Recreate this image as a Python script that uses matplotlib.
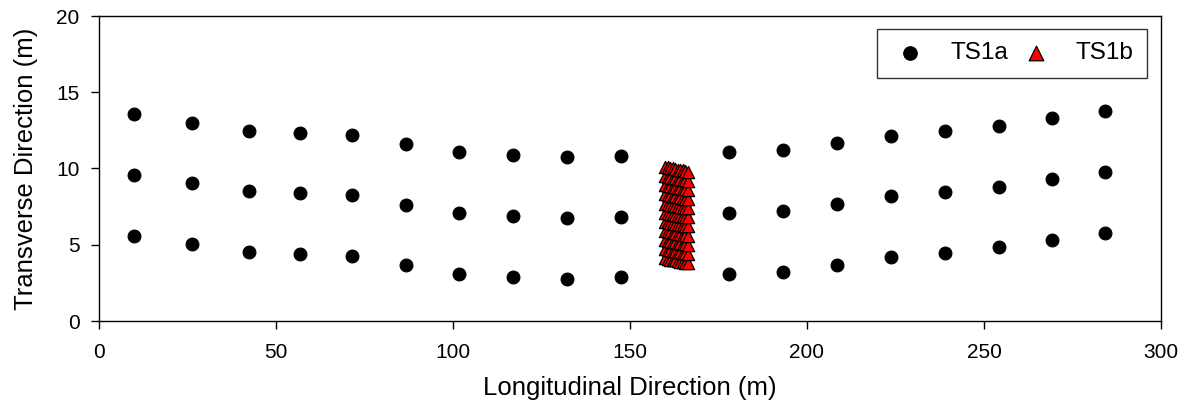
import matplotlib
matplotlib.use("Agg")
import matplotlib.pyplot as plt

plt.rcParams["font.family"] = ["Liberation Sans", "DejaVu Sans"]

# TS1a survey points: three transverse lines along the reach
ts1a_x = [10.0, 26.2, 42.4, 56.7, 71.4, 86.6, 101.8, 116.9, 132.2, 147.4,
          178.0, 193.1, 208.5, 223.8, 239.1, 254.3, 269.3, 284.3]
ts1a_y_upper = [13.57, 13.01, 12.49, 12.36, 12.22, 11.63, 11.07, 10.89, 10.74, 10.82,
                11.07, 11.20, 11.68, 12.16, 12.47, 12.80, 13.28, 13.76]
ts1a_y_middle = [9.55, 9.03, 8.50, 8.37, 8.24, 7.62, 7.05, 6.90, 6.74, 6.83,
                 7.07, 7.20, 7.68, 8.17, 8.47, 8.80, 9.29, 9.77]
ts1a_y_lower = [5.58, 5.03, 4.51, 4.38, 4.24, 3.65, 3.08, 2.91, 2.78, 2.86,
                3.08, 3.21, 3.70, 4.18, 4.49, 4.82, 5.30, 5.78]

# TS1b dense grid: longitudinal stations and transverse readings per row
ts1b_x = [160.0, 160.7, 161.4, 162.1, 162.8, 163.5, 164.2, 164.9, 165.6, 166.3]
ts1b_rows = [
    [4.10, 4.07, 4.03, 4.00, 3.97, 3.93, 3.90, 3.87, 3.83, 3.80],
    [4.70, 4.67, 4.63, 4.60, 4.57, 4.53, 4.50, 4.47, 4.43, 4.40],
    [5.30, 5.27, 5.23, 5.20, 5.17, 5.13, 5.10, 5.07, 5.03, 5.00],
    [5.90, 5.87, 5.83, 5.80, 5.77, 5.73, 5.70, 5.67, 5.63, 5.60],
    [6.50, 6.47, 6.43, 6.40, 6.37, 6.33, 6.30, 6.27, 6.23, 6.20],
    [7.10, 7.07, 7.03, 7.00, 6.97, 6.93, 6.90, 6.87, 6.83, 6.80],
    [7.70, 7.67, 7.63, 7.60, 7.57, 7.53, 7.50, 7.47, 7.43, 7.40],
    [8.30, 8.27, 8.23, 8.20, 8.17, 8.13, 8.10, 8.07, 8.03, 8.00],
    [8.90, 8.87, 8.83, 8.80, 8.77, 8.73, 8.70, 8.67, 8.63, 8.60],
    [9.50, 9.47, 9.43, 9.40, 9.37, 9.33, 9.30, 9.27, 9.23, 9.20],
    [10.10, 10.07, 10.03, 10.00, 9.97, 9.93, 9.90, 9.87, 9.83, 9.80],
]

x_ticks = [0, 50, 100, 150, 200, 250, 300]
y_ticks = [0, 5, 10, 15, 20]

fig = plt.figure(figsize=(11.86, 4.15), dpi=100)
ax = fig.add_axes([99 / 1186, 1 - 321 / 415, 1062 / 1186, 305 / 415])

all_x = ts1a_x * 3
all_y = ts1a_y_upper + ts1a_y_middle + ts1a_y_lower
ax.scatter(all_x, all_y, s=85, c="black", edgecolors="black", linewidths=0.8,
           label="TS1a", zorder=3)

bx, by = [], []
for row in ts1b_rows:
    bx.extend(ts1b_x)
    by.extend(row)
ax.scatter(bx, by, marker="^", s=78, c="red", edgecolors="black", linewidths=0.9,
           label="TS1b", zorder=4)

ax.set_xlim(0, 300)
ax.set_ylim(0, 20)
ax.set_xticks(x_ticks)
ax.set_yticks(y_ticks)
ax.tick_params(axis="both", direction="out", length=6, width=1, labelsize=15,
               top=False, right=False)
ax.tick_params(axis="x", pad=10)
ax.tick_params(axis="y", pad=8)
for sp in ax.spines.values():
    sp.set_linewidth(1)
    sp.set_color("black")

ax.set_xlabel("Longitudinal Direction (m)", fontsize=18.5, labelpad=10)
ax.set_ylabel("Transverse Direction (m)", fontsize=18.5, labelpad=13)

leg = ax.legend(loc="upper right", bbox_to_anchor=((1147 - 99) / 1062, 1 - 13 / 305),
                ncol=2, fontsize=17.5, frameon=True, fancybox=False, shadow=False,
                borderaxespad=0, handlelength=1.64, handletextpad=0.82,
                columnspacing=0.33, borderpad=0.55, scatterpoints=1)
leg.get_frame().set_edgecolor("black")
leg.get_frame().set_linewidth(1)
leg.legend_handles[0].set_sizes([95])
leg.legend_handles[1].set_sizes([110])

fig.savefig("out.png", dpi=100)
